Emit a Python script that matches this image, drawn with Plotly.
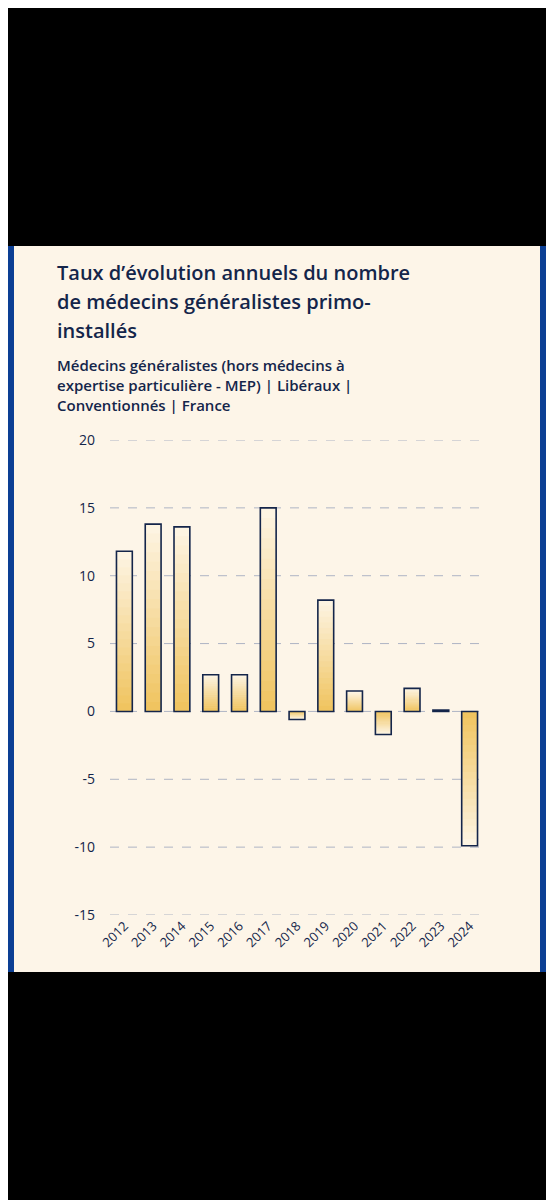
import plotly.graph_objects as go

years = ["2012","2013","2014","2015","2016","2017","2018","2019","2020","2021","2022","2023","2024"]
values = [11.8, 13.8, 13.6, 2.7, 2.7, 15.0, -0.6, 8.2, 1.5, -1.7, 1.7, 0.1, -9.9]
y_ticks = [20, 15, 10, 5, 0, -5, -10, -15]

OFF = 8
W, H = 554 - OFF, 1200 - OFF
PL, PR, PT, PB = 110 - OFF, 484 - OFF, 440 - OFF, 915 - OFF
PW, PH = PR - PL, PB - PT

def px(x):
    return (x - OFF - PL) / PW

def py(y):
    return (PB - (y - OFF)) / PH

NAVY = "#14254a"
fig = go.Figure()

N = 20
c0 = (240, 196, 96)
c1 = (253, 244, 226)
for k in range(N):
    t = k / (N - 1)
    col = "rgb(%d,%d,%d)" % tuple(round(a + (b - a) * t) for a, b in zip(c0, c1))
    fig.add_trace(go.Bar(
        x=years, y=[v / N * (1.3 if k < N - 1 else 1) for v in values], base=[v * k / N for v in values],
        marker=dict(color=col, line=dict(width=0)), width=0.55,
        hoverinfo="skip", showlegend=False))
fig.add_trace(go.Bar(
    x=years, y=values, width=0.55,
    marker=dict(color="rgba(0,0,0,0)", line=dict(color=NAVY, width=1.6)),
    showlegend=False))

shapes = [
    dict(type="rect", xref="paper", yref="paper", x0=px(0), x1=px(560), y0=py(972), y1=py(246),
         fillcolor="#0c3f94", line_width=0, layer="below"),
    dict(type="rect", xref="paper", yref="paper", x0=px(14), x1=px(540), y0=py(972), y1=py(246),
         fillcolor="#fdf5e8", line_width=0, layer="below"),
]
for yv in y_ticks:
    shapes.append(dict(type="line", xref="paper", yref="y", x0=0, x1=1, y0=yv, y1=yv,
                       line=dict(color="#aeb4c4", width=1, dash="dash"), layer="below"))

def ann(text, y, size, weight):
    return dict(text=text, xref="paper", yref="paper", x=px(55), y=py(y), xanchor="left", yanchor="middle",
                showarrow=False, font=dict(family="Open Sans", size=size, color=NAVY, weight=weight), align="left")

annotations = [
    ann("Taux d’évolution annuels du nombre", 272, 20, 600),
    ann("de médecins généralistes primo-", 301, 20, 600),
    ann("installés", 330, 20, 600),
    ann("Médecins généralistes (hors médecins à", 365, 15, 600),
    ann("expertise particulière - MEP) | Libéraux |", 385, 15, 600),
    ann("Conventionnés | France", 405, 15, 600),
]

fig.update_layout(
    width=W, height=H, barmode="overlay",
    paper_bgcolor="black", plot_bgcolor="rgba(0,0,0,0)",
    margin=dict(l=PL, r=W - PR, t=PT, b=H - PB, pad=0),
    shapes=shapes, annotations=annotations,
    font=dict(family="Open Sans", color=NAVY),
    xaxis=dict(showgrid=False, zeroline=False, tickangle=-45, tickfont=dict(size=13, color=NAVY),
               showline=False, ticks=""),
    yaxis=dict(range=[-15, 20], tickvals=y_ticks, ticktext=[str(v) for v in y_ticks],
               showgrid=False, zeroline=False, tickfont=dict(size=14, color=NAVY), ticklabelstandoff=14),
)
fig.write_html("out.html")
